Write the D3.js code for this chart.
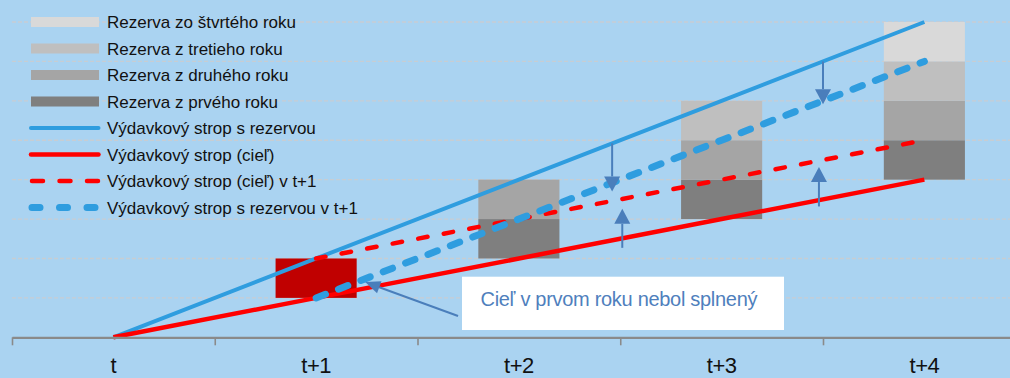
<!DOCTYPE html>
<html>
<head>
<meta charset="utf-8">
<script src="https://cdn.jsdelivr.net/npm/d3@7"></script>
<style>
  html, body { margin: 0; padding: 0; background: #aad3f1; }
  svg { display: block; font-family: "Liberation Sans", Arial, sans-serif; }
</style>
</head>
<body>
<svg id="chart" width="1010" height="378"></svg>
<script>
// Years of the budget horizon
const categories = ["t", "t+1", "t+2", "t+3", "t+4"];

// Expenditure ceilings (index units)
const ceilingTarget = [0, 1, 2, 3, 4];             // Výdavkový strop (cieľ)
const ceilingReserve = [0, 2, 4, 6, 8];            // Výdavkový strop s rezervou
const ceilingTargetNext = [null, 2, 3, 4, 5];      // Výdavkový strop (cieľ) v t+1
const ceilingReserveNext = [null, 1, 3, 5, 7];     // Výdavkový strop s rezervou v t+1

// Reserve layers stacked on top of the target ceiling
const reserveYear1 = [0, 0, 1, 1, 1];
const reserveYear2 = [0, 0, 1, 1, 1];
const reserveYear3 = [0, 0, 0, 1, 1];
const reserveYear4 = [0, 0, 0, 0, 1];

// Target missed in the first year (from, to)
const missedTarget = [null, [1, 2], null, null, null];

// Shifts of the ceilings in t+1 (position on the year axis, start value, end value)
const shiftDown = [[2.46, 4.92, 3.70], [3.5, 7.0, 5.91]];
const shiftUp = [[2.51, 2.27, 3.26], [3.48, 3.32, 4.32]];

// Callout pointer (year position, value) pairs
const calloutPointer = [[1.70, 0.54], [1.242, 1.40]];
const calloutText = "Cieľ v prvom roku nebol splnený";

const gridValues = [1, 2, 3, 4, 5, 6, 7, 8];

const colors = {
  year1: "#7f7f7f", year2: "#a5a5a5", year3: "#bfbfbf", year4: "#d9d9d9",
  blue: "#2f9ddf", red: "#ff0000", missed: "#c00000", arrow: "#4a7ebb"
};

const svg = d3.select("#chart");
const W = 1010, H = 378;

const x = d3.scaleLinear().domain([-0.5, 4.5]).range([12, 1025.75]);
const y = d3.scaleLinear().domain([0, 8]).range([337.3, 22]);
const band = x(1) - x(0);
const barW = band * 0.4;

svg.append("rect").attr("width", W).attr("height", H).attr("fill", "#aad3f1");

// Gridlines
svg.append("g").selectAll("line").data(gridValues).join("line")
  .attr("x1", x(-0.5)).attr("x2", W)
  .attr("y1", d => y(d)).attr("y2", d => y(d))
  .attr("stroke", "#c7cdd3").attr("stroke-width", 1.3)
  .attr("stroke-dasharray", "4,2");

// Stacked reserves
const layers = [
  { key: "year1", values: reserveYear1 },
  { key: "year2", values: reserveYear2 },
  { key: "year3", values: reserveYear3 },
  { key: "year4", values: reserveYear4 }
];
const stackRows = categories.map((c, i) => {
  const row = { i, base: ceilingTarget[i] };
  layers.forEach(l => row[l.key] = l.values[i]);
  return row;
});
const stacked = d3.stack().keys(layers.map(l => l.key))(stackRows);
const gBars = svg.append("g");
stacked.forEach(series => {
  gBars.selectAll(null).data(series.filter(d => d[1] - d[0] > 0)).join("rect")
    .attr("x", d => x(d.data.i) - barW / 2)
    .attr("width", barW)
    .attr("y", d => y(d.data.base + d[1]))
    .attr("height", d => y(d.data.base + d[0]) - y(d.data.base + d[1]))
    .attr("fill", colors[series.key]);
});

// Missed target box
svg.append("g").selectAll("rect")
  .data(missedTarget.map((d, i) => d && { i, lo: d[0], hi: d[1] }).filter(Boolean))
  .join("rect")
  .attr("x", d => x(d.i) - barW / 2).attr("width", barW)
  .attr("y", d => y(d.hi)).attr("height", d => y(d.lo) - y(d.hi))
  .attr("fill", colors.missed);

// Ceiling lines
const line = d3.line().defined(d => d[1] != null).x(d => x(d[0])).y(d => y(d[1]));
const toPts = arr => arr.map((v, i) => [i, v]).filter(d => d[1] != null);

function drawLine(arr, color, width, dash, cap) {
  svg.append("path").datum(toPts(arr))
    .attr("d", line).attr("fill", "none")
    .attr("stroke", color).attr("stroke-width", width)
    .attr("stroke-dasharray", dash || null)
    .attr("stroke-linecap", cap || "butt");
}
drawLine(ceilingReserve, colors.blue, 4, null);
drawLine(ceilingTarget, colors.red, 4.5, null);
drawLine(ceilingTargetNext, colors.red, 4.5, "9.5,16.5", "round");
drawLine(ceilingReserveNext, colors.blue, 7, "10,14", "round");

// Arrows
function arrow(x1, y1, x2, y2, headLen, headW) {
  const dx = x2 - x1, dy = y2 - y1, len = Math.hypot(dx, dy);
  const ux = dx / len, uy = dy / len;
  const bx = x2 - ux * headLen, by = y2 - uy * headLen;
  svg.append("line").attr("x1", x1).attr("y1", y1).attr("x2", bx).attr("y2", by)
    .attr("stroke", colors.arrow).attr("stroke-width", 2);
  const px = -uy * headW / 2, py = ux * headW / 2;
  svg.append("path")
    .attr("d", `M${x2},${y2}L${bx + px},${by + py}L${bx - px},${by - py}Z`)
    .attr("fill", colors.arrow);
}
shiftDown.concat(shiftUp).forEach(([at, from, to]) =>
  arrow(x(at), y(from), x(at), y(to), 15, 16));

// Axis
const axis = d3.axisBottom(x)
  .tickValues([-0.5, 0.5, 1.5, 2.5, 3.5])
  .tickFormat("")
  .tickSize(8).tickSizeOuter(0);
const gAxis = svg.append("g").attr("transform", `translate(0,${y(0)})`).call(axis);
gAxis.select(".domain").attr("stroke", "#8a8a8a").attr("stroke-width", 2.2);
gAxis.selectAll(".tick line").attr("stroke", "#8a8a8a").attr("stroke-width", 1.6);

svg.append("g").selectAll("text").data(categories).join("text")
  .attr("x", (d, i) => x(i)).attr("y", 373)
  .attr("text-anchor", "middle")
  .attr("font-size", 22).attr("letter-spacing", -0.5)
  .attr("fill", "#111")
  .text(d => d);

// Callout box and pointer
const [[cx1, cy1], [cx2, cy2]] = calloutPointer;
arrow(x(cx1), y(cy1), x(cx2), y(cy2), 15, 13);
const boxX = 462, boxY = 276.7, boxW = 322, boxH = 53.3;
svg.append("rect").attr("x", boxX).attr("y", boxY).attr("width", boxW).attr("height", boxH)
  .attr("fill", "#ffffff");
svg.append("text").attr("x", 480.5).attr("y", 305.5)
  .attr("font-size", 20).attr("letter-spacing", -0.3)
  .attr("fill", "#4f7fbd")
  .text(calloutText);

// Legend
const legendItems = [
  { label: "Rezerva zo štvrtého roku", type: "rect", color: colors.year4 },
  { label: "Rezerva z tretieho roku", type: "rect", color: colors.year3 },
  { label: "Rezerva z druhého roku", type: "rect", color: colors.year2 },
  { label: "Rezerva z prvého roku", type: "rect", color: colors.year1 },
  { label: "Výdavkový strop s rezervou", type: "line", color: colors.blue, width: 4 },
  { label: "Výdavkový strop (cieľ)", type: "line", color: colors.red, width: 4.5 },
  { label: "Výdavkový strop (cieľ) v t+1", type: "dash", color: colors.red, width: 4.5, dash: "11,16.5" },
  { label: "Výdavkový strop s rezervou v t+1", type: "dash", color: colors.blue, width: 7, dash: "8,19.5" }
];
const legendY = d3.scalePoint().domain(d3.range(legendItems.length)).range([22, 207.5]);
const gLeg = svg.append("g");
legendItems.forEach((item, i) => {
  const cy = legendY(i);
  if (item.type === "rect") {
    gLeg.append("rect").attr("x", 31).attr("y", cy - 5).attr("width", 68).attr("height", 10)
      .attr("fill", item.color);
  } else {
    gLeg.append("line").attr("x1", item.type === "dash" ? 32 : 31).attr("x2", item.type === "dash" ? 98 : 98.5)
      .attr("y1", cy).attr("y2", cy)
      .attr("stroke", item.color).attr("stroke-width", item.width)
      .attr("stroke-linecap", "round")
      .attr("stroke-dasharray", item.dash || null);
  }
  gLeg.append("text").attr("x", 107).attr("y", cy).attr("dy", "0.36em")
    .attr("font-size", 17).attr("letter-spacing", 0)
    .attr("fill", "#111")
    .text(item.label);
});
</script>
</body>
</html>
